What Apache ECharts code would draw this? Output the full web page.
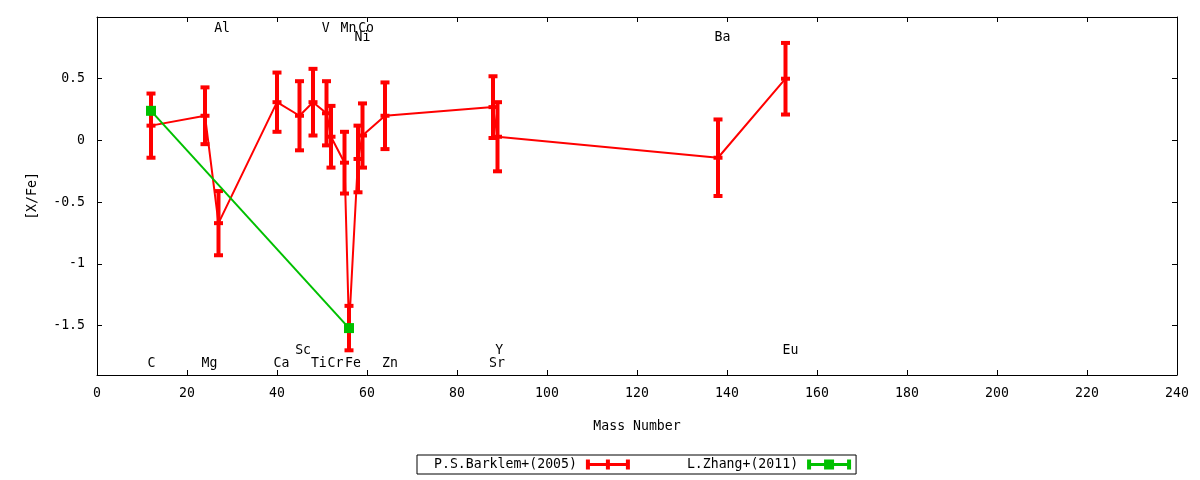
<!DOCTYPE html>
<html>
<head>
<meta charset="utf-8">
<script src="https://cdn.jsdelivr.net/npm/echarts@6/dist/echarts.min.js"></script>
<style>
    html, body { margin: 0; padding: 0; background: #fff; }
    #main { width: 1200px; height: 480px; }
</style>
</head>
<body>
<div id="main"></div>
<script>
// Barklem et al. (2005)
const elements = ['C', 'Mg', 'Al', 'Ca', 'Sc', 'Ti', 'V', 'Cr', 'Mn', 'Fe', 'Ni', 'Co', 'Zn', 'Sr', 'Y', 'Ba', 'Eu'];
const massNumber = [12, 24, 27, 40, 45, 48, 51, 52, 55, 56, 58, 59, 64, 88, 89, 138, 153];
const barklemXFe = [0.12, 0.20, -0.67, 0.31, 0.20, 0.31, 0.22, 0.03, -0.18, -1.52, -0.15, 0.04, 0.20, 0.27, 0.03, -0.14, 0.50];
const barklemErr = [0.26, 0.23, 0.26, 0.24, 0.28, 0.27, 0.26, 0.25, 0.25, 0.18, 0.27, 0.26, 0.27, 0.25, 0.28, 0.31, 0.29];

// Zhang et al. (2011)
const zhangMass = [12, 56];
const zhangXFe = [0.24, -1.52];

// element names written in the plot
const labelNames = ['Al', 'V', 'Mn', 'Co', 'Ni', 'Ba', 'Sc', 'Y', 'Eu', 'C', 'Mg', 'Ca', 'Ti', 'Cr', 'Fe', 'Zn', 'Sr'];
const labelX = [27.8, 50.8, 55.9, 59.8, 59.0, 139.0, 45.8, 89.4, 154.1, 12.1, 25.0, 41.0, 49.3, 53.0, 56.9, 65.1, 88.9];
const labelY = [0.91, 0.91, 0.91, 0.91, 0.83, 0.83, -1.70, -1.70, -1.70, -1.81, -1.81, -1.81, -1.81, -1.81, -1.81, -1.81, -1.81];

const yTicks = [-1.5, -1, -0.5, 0, 0.5];

const FONT = '"DejaVu Sans Mono", monospace';
const FS = 13.2;
const RED = '#ff0000';
const GREEN = '#00c000';

const chartDom = document.getElementById('main');
const myChart = echarts.init(chartDom);

// vertical bar with caps at both ends and a tick at the value
function errorBars(color) {
    return function (params, api) {
        const x = api.value(0), y = api.value(1), e = api.value(2);
        const top = api.coord([x, y + e]);
        const bot = api.coord([x, y - e]);
        const mid = api.coord([x, y]);
        const style = { stroke: color, lineWidth: 4 };
        const seg = (x1, y1, x2, y2) => ({ type: 'line', shape: { x1, y1, x2, y2 }, style });
        const cap = 4.5;
        return {
            type: 'group',
            children: [
                seg(top[0], top[1], bot[0], bot[1]),
                seg(top[0] - cap, top[1], top[0] + cap, top[1]),
                seg(bot[0] - cap, bot[1], bot[0] + cap, bot[1]),
                seg(mid[0] - cap, mid[1], mid[0] + cap, mid[1])
            ]
        };
    };
}

const axisCommon = {
    axisLine: { show: true, onZero: false, lineStyle: { color: '#000', width: 1 } },
    axisTick: { show: true, inside: true, length: 5, lineStyle: { color: '#000' } },
    splitLine: { show: false }
};

const redIcon = 'path://M0,0h4v10h-4zM0,3.5h44v3h-44zM20,0h4v10h-4zM40,0h4v10h-4z';
const greenIcon = 'path://M0,0h4v10h-4zM0,3.5h44v3h-44zM17,0h10v10h-10zM40,0h4v10h-4z';

const option = {
    animation: false,
    backgroundColor: '#fff',
    textStyle: { fontFamily: FONT },
    grid: { left: 97, right: 23, top: 17, bottom: 105 },
    legend: {
        left: 417,
        top: 455,
        align: 'right',
        orient: 'horizontal',
        borderColor: '#000',
        borderWidth: 1,
        borderRadius: 0,
        padding: [3, 5, 3, 17],
        itemGap: 57,
        itemWidth: 44,
        itemHeight: 10,
        textStyle: { fontFamily: FONT, fontSize: FS, color: '#000', padding: [0, 4, 0, 0] },
        data: [
            { name: 'P.S.Barklem+(2005)', icon: redIcon, itemStyle: { color: RED } },
            { name: 'L.Zhang+(2011)', icon: greenIcon, itemStyle: { color: GREEN } }
        ]
    },
    xAxis: [
        Object.assign({}, axisCommon, {
            type: 'value', min: 0, max: 240, interval: 20, position: 'bottom',
            name: 'Mass Number', nameLocation: 'middle', nameGap: 45,
            nameTextStyle: { fontFamily: FONT, fontSize: FS, color: '#000' },
            axisLabel: { margin: 12, fontFamily: FONT, fontSize: FS, color: '#000' }
        }),
        Object.assign({}, axisCommon, {
            type: 'value', min: 0, max: 240, interval: 20, position: 'top',
            axisLabel: { show: false }
        })
    ],
    yAxis: [
        Object.assign({}, axisCommon, {
            type: 'value', min: -1.9, max: 1.0, position: 'left',
            name: '[X/Fe]', nameLocation: 'middle', nameGap: 58,
            nameTextStyle: { fontFamily: FONT, fontSize: FS, color: '#000' },
            axisTick: { show: true, inside: true, length: 5, customValues: yTicks, lineStyle: { color: '#000' } },
            axisLabel: { margin: 12, customValues: yTicks, fontFamily: FONT, fontSize: FS, color: '#000' }
        }),
        Object.assign({}, axisCommon, {
            type: 'value', min: -1.9, max: 1.0, position: 'right',
            axisTick: { show: true, inside: true, length: 5, customValues: yTicks, lineStyle: { color: '#000' } },
            axisLabel: { show: false }
        })
    ],
    series: [
        {
            name: 'P.S.Barklem+(2005)',
            type: 'line',
            data: massNumber.map((m, i) => [m, barklemXFe[i]]),
            showSymbol: false,
            itemStyle: { color: RED },
            lineStyle: { color: RED, width: 2 },
            z: 2
        },
        {
            name: 'P.S.Barklem+(2005)',
            type: 'custom',
            renderItem: errorBars(RED),
            data: massNumber.map((m, i) => [m, barklemXFe[i], barklemErr[i]]),
            itemStyle: { color: RED },
            z: 3
        },
        {
            name: 'L.Zhang+(2011)',
            type: 'line',
            data: zhangMass.map((m, i) => [m, zhangXFe[i]]),
            symbol: 'rect',
            symbolSize: 10,
            itemStyle: { color: GREEN },
            lineStyle: { color: GREEN, width: 2 },
            z: 4
        },
        {
            name: 'labels',
            type: 'custom',
            silent: true,
            data: labelX.map((x, i) => [x, labelY[i]]),
            renderItem: function (params, api) {
                const p = api.coord([api.value(0), api.value(1)]);
                return {
                    type: 'text',
                    x: p[0],
                    y: p[1],
                    style: {
                        text: labelNames[params.dataIndex],
                        fill: '#000',
                        font: FS + 'px ' + FONT,
                        align: 'center',
                        verticalAlign: 'middle'
                    }
                };
            },
            z: 5
        }
    ]
};

myChart.setOption(option);
</script>
</body>
</html>
